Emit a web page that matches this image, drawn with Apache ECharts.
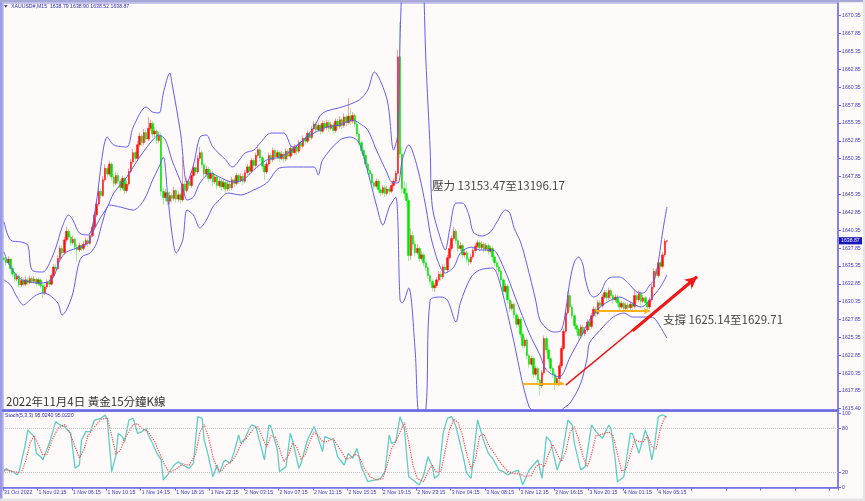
<!DOCTYPE html>
<html><head><meta charset="utf-8">
<script src="https://cdn.jsdelivr.net/npm/echarts@6/dist/echarts.min.js"></script>
<style>html,body{margin:0;padding:0;background:#fffafa;}#c{width:865px;height:501px;}</style>
</head><body><div id="c"></div>
<script>
// ---------- data ----------
const tickLabels = ['31 Oct 2022','1 Nov 02:15','1 Nov 06:15','1 Nov 10:15','1 Nov 14:15','1 Nov 18:15','1 Nov 22:15','2 Nov 03:15','2 Nov 07:15','2 Nov 11:15','2 Nov 15:15','2 Nov 19:15','2 Nov 23:15','3 Nov 04:15','3 Nov 08:15','3 Nov 12:15','3 Nov 16:15','3 Nov 20:15','4 Nov 01:15','4 Nov 05:15'];
const priceTicks = [1615.40,1617.85,1620.35,1622.85,1625.35,1627.85,1630.35,1632.85,1635.35,1637.85,1640.35,1642.85,1645.35,1647.85,1650.35,1652.85,1655.35,1657.85,1660.35,1662.85,1665.35,1667.85,1670.35];
const stochTicks = [0,20,80,100];
const stochLevels = [20,80];
const totalSlots = 388;
// [open, close, low, high]
const candles = [
[1636.5,1636.2,1635.9,1637.0],[1636.2,1635.8,1635.4,1636.6],[1635.8,1636.3,1635.5,1636.7],[1636.3,1635.0,1634.7,1636.5],[1635.0,1634.2,1633.8,1635.3],
[1634.2,1633.5,1633.1,1634.5],[1633.5,1633.9,1633.2,1634.3],[1633.9,1632.7,1632.3,1634.1],[1632.7,1633.3,1632.4,1633.8],[1633.3,1632.8,1632.5,1633.6],
[1632.8,1633.4,1632.5,1633.9],[1633.4,1633.0,1632.7,1633.8],[1633.0,1633.6,1632.8,1634.0],[1633.6,1633.2,1632.9,1633.9],[1633.2,1633.5,1632.9,1633.9],
[1633.5,1632.9,1632.5,1633.7],[1632.9,1633.4,1632.6,1633.7],[1633.4,1632.6,1632.2,1633.6],[1632.6,1631.6,1630.9,1632.8],[1631.6,1632.4,1631.3,1632.7],
[1632.4,1633.1,1632.1,1633.5],[1633.1,1632.8,1632.4,1633.6],[1632.8,1634.0,1632.6,1634.3],[1634.0,1635.2,1633.8,1635.6],[1635.2,1635.0,1634.6,1635.7],
[1635.0,1636.4,1634.8,1636.8],[1636.4,1637.8,1636.1,1638.3],[1637.8,1637.2,1636.8,1638.2],[1637.2,1639.0,1637.0,1639.4],[1639.0,1640.2,1638.7,1640.8],
[1640.2,1639.4,1639.0,1640.5],[1639.4,1638.6,1638.2,1639.8],[1638.6,1639.1,1638.3,1639.6],[1639.1,1638.0,1637.6,1639.3],[1638.0,1637.6,1635.9,1638.4],
[1637.6,1638.2,1637.3,1638.6],[1638.2,1637.8,1637.4,1638.5],[1637.8,1638.4,1637.5,1638.8],[1638.4,1638.9,1638.1,1639.3],[1638.9,1638.5,1638.0,1639.2],
[1638.5,1639.6,1638.3,1640.0],[1639.6,1640.8,1639.4,1641.2],[1640.8,1642.5,1640.5,1642.9],[1642.5,1644.0,1642.2,1644.5],[1644.0,1645.8,1643.7,1646.3],
[1645.8,1645.2,1644.7,1646.2],[1645.2,1647.4,1645.0,1647.9],[1647.4,1649.0,1647.1,1649.6],[1649.0,1648.2,1647.7,1649.4],[1648.2,1649.6,1647.9,1650.1],
[1649.6,1647.8,1647.3,1649.9],[1647.8,1646.9,1646.4,1648.2],[1646.9,1648.0,1646.6,1648.5],[1648.0,1647.2,1646.8,1648.4],[1647.2,1646.3,1645.8,1647.5],
[1646.3,1647.6,1646.0,1648.0],[1647.6,1645.9,1645.4,1647.8],[1645.9,1646.8,1645.6,1647.3],[1646.8,1648.6,1646.5,1649.0],[1648.6,1649.9,1648.3,1650.3],
[1649.9,1651.2,1649.6,1651.7],[1651.2,1650.4,1649.9,1651.5],[1650.4,1652.3,1650.1,1652.8],[1652.3,1653.5,1652.0,1654.0],[1653.5,1652.6,1652.1,1653.8],
[1652.6,1654.0,1652.3,1654.5],[1654.0,1653.1,1652.6,1654.4],[1653.1,1654.6,1652.8,1656.2],[1654.6,1655.3,1654.2,1655.8],[1655.3,1653.8,1653.3,1655.6],
[1653.8,1654.2,1653.4,1654.8],[1654.2,1652.9,1652.4,1654.5],[1652.9,1653.6,1652.5,1654.1],[1653.6,1645.8,1645.2,1654.0],[1645.8,1644.9,1643.9,1646.3],
[1644.9,1645.6,1644.4,1646.1],[1645.6,1644.4,1643.8,1645.9],[1644.4,1645.2,1643.9,1645.7],[1645.2,1644.8,1644.2,1645.6],[1644.8,1645.9,1644.5,1646.4],
[1645.9,1644.7,1644.2,1646.1],[1644.7,1645.3,1644.3,1645.8],[1645.3,1644.6,1644.1,1645.6],[1644.6,1646.8,1644.3,1650.6],[1646.8,1645.9,1645.4,1647.2],
[1645.9,1647.2,1645.6,1647.7],[1647.2,1646.6,1646.1,1647.5],[1646.6,1648.0,1646.3,1648.5],[1648.0,1649.1,1647.7,1649.6],[1649.1,1648.5,1648.0,1649.5],
[1648.5,1650.4,1648.2,1650.9],[1650.4,1651.2,1650.0,1652.0],[1651.2,1649.5,1649.0,1651.5],[1649.5,1648.2,1647.7,1649.8],[1648.2,1648.9,1647.8,1649.4],
[1648.9,1647.6,1647.1,1649.2],[1647.6,1648.3,1647.3,1648.7],[1648.3,1647.1,1646.6,1648.6],[1647.1,1647.8,1646.8,1648.2],[1647.8,1646.6,1646.1,1648.0],
[1646.6,1647.2,1646.3,1647.6],[1647.2,1646.4,1645.9,1647.5],[1646.4,1647.0,1646.1,1647.4],[1647.0,1646.1,1645.6,1647.3],[1646.1,1646.8,1645.8,1647.2],
[1646.8,1646.3,1645.8,1647.1],[1646.3,1647.4,1646.0,1647.8],[1647.4,1646.9,1646.4,1647.7],[1646.9,1648.0,1646.6,1648.4],[1648.0,1647.3,1646.8,1648.3],
[1647.3,1647.9,1647.0,1648.3],[1647.9,1647.2,1646.7,1648.2],[1647.2,1648.4,1646.9,1648.8],[1648.4,1649.2,1648.1,1649.6],[1649.2,1648.6,1648.1,1649.5],
[1648.6,1650.1,1648.3,1650.5],[1650.1,1649.4,1648.9,1650.4],[1649.4,1650.8,1649.1,1651.2],[1650.8,1651.6,1650.5,1652.0],[1651.6,1650.5,1650.0,1651.9],
[1650.5,1649.3,1648.8,1650.8],[1649.3,1648.5,1647.4,1649.6],[1648.5,1649.6,1648.2,1650.0],[1649.6,1650.8,1649.3,1651.2],[1650.8,1650.2,1649.7,1651.1],
[1650.2,1651.5,1649.9,1651.9],[1651.5,1650.6,1650.1,1651.8],[1650.6,1651.2,1650.3,1651.6],[1651.2,1650.4,1649.9,1651.5],[1650.4,1651.0,1650.1,1651.4],
[1651.0,1650.3,1649.8,1651.3],[1650.3,1651.4,1650.0,1651.8],[1651.4,1650.7,1650.2,1651.7],[1650.7,1651.8,1650.4,1652.2],[1651.8,1651.2,1650.7,1652.1],
[1651.2,1652.0,1650.9,1652.4],[1652.0,1651.4,1650.9,1652.3],[1651.4,1652.6,1651.1,1653.0],[1652.6,1652.1,1651.6,1652.9],[1652.1,1653.2,1651.8,1653.6],
[1653.2,1652.8,1652.3,1653.6],[1652.8,1653.9,1652.5,1654.3],[1653.9,1653.3,1652.8,1654.2],[1653.3,1654.5,1653.0,1654.9],[1654.5,1655.2,1654.2,1655.6],
[1655.2,1654.4,1653.9,1655.5],[1654.4,1655.0,1654.1,1655.4],[1655.0,1654.2,1653.7,1655.3],[1654.2,1655.3,1653.9,1655.7],[1655.3,1654.7,1654.2,1655.6],
[1654.7,1655.4,1654.4,1655.8],[1655.4,1654.6,1654.1,1655.7],[1654.6,1655.1,1654.3,1655.5],[1655.1,1654.3,1653.8,1655.4],[1654.3,1655.6,1654.0,1656.0],
[1655.6,1654.9,1654.4,1655.9],[1654.9,1655.8,1654.6,1656.3],[1655.8,1655.0,1654.5,1656.1],[1655.0,1656.2,1654.7,1656.7],[1656.2,1655.4,1654.9,1656.5],
[1655.4,1656.3,1655.1,1658.8],[1656.3,1655.6,1655.1,1657.4],[1655.6,1656.4,1655.3,1656.9],[1656.4,1655.2,1654.7,1656.7],[1655.2,1653.8,1653.3,1655.5],
[1653.8,1652.6,1652.1,1654.1],[1652.6,1651.5,1651.0,1652.9],[1651.5,1650.8,1650.3,1651.8],[1650.8,1649.6,1649.1,1651.1],[1649.6,1648.7,1648.2,1649.9],
[1648.7,1648.2,1647.7,1649.0],[1648.2,1647.0,1646.5,1648.5],[1647.0,1646.5,1646.0,1647.3],[1646.5,1647.2,1646.2,1647.6],[1647.2,1646.0,1645.5,1647.5],
[1646.0,1645.6,1645.1,1646.3],[1645.6,1646.3,1645.3,1646.7],[1646.3,1645.5,1645.0,1646.6],[1645.5,1646.1,1645.2,1646.5],[1646.1,1645.8,1645.3,1646.4],
[1645.8,1646.6,1645.5,1647.0],[1646.6,1647.2,1646.3,1647.6],[1647.2,1648.3,1646.9,1648.7],[1648.3,1664.6,1648.0,1665.6],[1664.6,1651.0,1650.4,1669.5],
[1651.0,1646.2,1645.5,1652.0],[1646.2,1645.5,1644.8,1647.2],[1645.5,1644.5,1643.6,1647.0],[1644.5,1636.8,1636.0,1645.0],[1636.8,1639.6,1636.2,1640.6],
[1639.6,1638.4,1637.6,1640.2],[1638.4,1637.2,1636.7,1638.9],[1637.2,1637.8,1636.9,1638.4],[1637.8,1636.4,1635.9,1638.1],[1636.4,1636.9,1636.1,1637.4],
[1636.9,1635.8,1635.3,1637.2],[1635.8,1635.1,1634.6,1636.1],[1635.1,1634.0,1633.5,1635.4],[1634.0,1633.2,1632.7,1634.3],[1633.2,1632.3,1631.8,1633.5],
[1632.3,1632.6,1631.7,1633.0],[1632.6,1633.4,1632.3,1633.8],[1633.4,1634.2,1633.1,1634.6],[1634.2,1633.8,1633.3,1634.6],[1633.8,1635.2,1633.5,1635.6],
[1635.2,1634.8,1634.3,1635.6],[1634.8,1636.5,1634.5,1636.9],[1636.5,1637.8,1636.2,1638.3],[1637.8,1639.2,1637.5,1639.7],[1639.2,1640.2,1638.9,1640.8],
[1640.2,1638.9,1638.4,1640.5],[1638.9,1637.8,1637.3,1639.2],[1637.8,1638.2,1637.4,1638.7],[1638.2,1636.9,1636.4,1638.5],[1636.9,1637.2,1636.5,1637.6],
[1637.2,1636.3,1635.8,1637.5],[1636.3,1635.9,1635.4,1636.6],[1635.9,1636.6,1635.6,1637.0],[1636.6,1637.5,1636.3,1637.9],[1637.5,1638.1,1637.2,1638.5],
[1638.1,1638.6,1637.8,1639.0],[1638.6,1637.9,1637.4,1638.9],[1637.9,1638.4,1637.6,1638.8],[1638.4,1637.7,1637.2,1638.7],[1637.7,1638.2,1637.4,1638.6],
[1638.2,1637.4,1636.9,1638.5],[1637.4,1637.8,1637.1,1638.2],[1637.8,1636.6,1636.1,1638.1],[1636.6,1635.8,1635.3,1636.9],[1635.8,1635.2,1634.7,1636.1],
[1635.2,1634.6,1634.1,1635.5],[1634.6,1633.4,1632.9,1634.9],[1633.4,1631.8,1631.3,1633.7],[1631.8,1632.5,1631.5,1632.9],[1632.5,1630.6,1630.1,1632.8],
[1630.6,1629.4,1628.9,1630.9],[1629.4,1630.0,1629.1,1630.4],[1630.0,1628.5,1628.0,1630.3],[1628.5,1627.2,1626.7,1628.8],[1627.2,1627.9,1626.9,1628.3],
[1627.9,1625.8,1625.3,1628.2],[1625.8,1624.2,1623.7,1626.1],[1624.2,1625.0,1623.9,1625.4],[1625.0,1622.8,1622.3,1625.3],[1622.8,1621.6,1621.1,1623.1],
[1621.6,1622.4,1621.3,1622.8],[1622.4,1620.2,1619.7,1622.7],[1620.2,1621.0,1619.9,1621.4],[1621.0,1619.4,1618.9,1621.3],[1619.4,1618.6,1617.2,1619.7],
[1618.6,1620.4,1618.3,1620.8],[1620.4,1625.2,1620.1,1625.6],[1625.2,1623.6,1623.1,1625.5],[1623.6,1622.4,1621.9,1623.9],[1622.4,1621.0,1620.5,1622.7],
[1621.0,1620.2,1619.7,1621.3],[1620.2,1618.9,1618.0,1620.5],[1618.9,1619.6,1618.6,1620.0],[1619.6,1621.4,1619.3,1621.8],[1621.4,1623.8,1621.1,1624.2],
[1623.8,1626.2,1623.5,1626.6],[1626.2,1628.8,1625.9,1629.2],[1628.8,1631.2,1628.5,1631.8],[1631.2,1629.6,1629.1,1631.5],[1629.6,1628.4,1627.9,1629.9],
[1628.4,1627.0,1626.5,1628.7],[1627.0,1626.5,1626.0,1627.3],[1626.5,1625.6,1624.9,1626.8],[1625.6,1626.8,1625.3,1627.2],[1626.8,1625.9,1625.4,1627.1],
[1625.9,1626.4,1625.5,1626.8],[1626.4,1627.5,1626.1,1627.9],[1627.5,1626.9,1626.4,1627.8],[1626.9,1628.4,1626.6,1628.8],[1628.4,1629.3,1628.1,1629.7],
[1629.3,1628.7,1628.2,1629.6],[1628.7,1630.2,1628.4,1630.6],[1630.2,1629.8,1629.3,1630.6],[1629.8,1631.0,1629.5,1631.4],[1631.0,1631.6,1630.7,1632.0],
[1631.6,1630.9,1630.4,1631.9],[1630.9,1631.9,1630.6,1632.3],[1631.9,1631.2,1630.7,1632.2],[1631.2,1630.6,1630.1,1631.5],[1630.6,1631.0,1630.3,1631.4],
[1631.0,1630.2,1629.7,1631.3],[1630.2,1629.6,1629.1,1630.5],[1629.6,1630.1,1629.3,1630.5],[1630.1,1629.4,1628.9,1630.4],[1629.4,1629.9,1629.1,1630.3],
[1629.9,1629.5,1629.0,1630.2],[1629.5,1630.0,1629.2,1630.4],[1630.0,1629.7,1629.2,1630.3],[1629.7,1631.2,1629.4,1632.0],[1631.2,1630.6,1630.1,1631.5],
[1630.6,1631.5,1630.3,1631.9],[1631.5,1630.4,1629.9,1631.8],[1630.4,1630.9,1630.1,1631.3],[1630.9,1630.2,1629.7,1631.2],[1630.2,1629.6,1629.1,1630.5],
[1629.6,1630.6,1629.3,1631.0],[1630.6,1632.4,1630.3,1632.8],[1632.4,1634.6,1632.1,1635.0],[1634.6,1634.0,1633.5,1634.9],[1634.0,1635.8,1633.7,1636.2],
[1635.8,1635.3,1634.8,1636.1],[1635.3,1636.9,1635.0,1637.3],[1636.9,1638.79,1636.6,1639.2],[1638.79,1638.87,1638.52,1638.90]
];
// Bollinger bands: [bar index, price]
const bbUpper = [[0,1641.49],[3,1638.97],[8,1638.69],[11,1638.27],[13,1634.78],[18,1634.50],[20,1635.06],[24,1637.86],[27,1640.79],[30,1642.47],[32,1641.77],[35,1639.95],[39,1639.67],[41,1640.79],[43,1644.57],[48,1653.38],[51,1652.27],[57,1651.99],[60,1654.78],[66,1657.58],[69,1656.88],[72,1656.74],[74,1659.54],[77,1662.33],[78,1660.94],[82,1653.94],[85,1646.95],[88,1649.47],[91,1653.38],[94,1653.66],[97,1651.99],[103,1650.17],[106,1649.19],[112,1651.14],[116,1651.56],[119,1652.55],[124,1653.94],[130,1653.94],[134,1651.99],[139,1652.96],[144,1654.78],[148,1656.74],[157,1657.58],[165,1658.56],[169,1659.96],[172,1662.47],[178,1658.56],[181,1651.56],[183,1653.94],[184,1666.95],[185,1676],[187,1686],[190,1690],[194,1681],[196,1664.15],[198,1651.56],[199,1643.59],[203,1638.97],[205,1637.58],[207,1640.37],[210,1644.15],[213,1644.15],[216,1642.47],[218,1640.09],[222,1639.53],[226,1640.09],[229,1641.49],[233,1643.17],[235,1642.75],[237,1640.65],[240,1638.69],[243,1635.48],[247,1630.58],[249,1627.78],[253,1626.38],[256,1626.10],[259,1626.38],[261,1629.18],[263,1633.38],[265,1635.90],[267,1636.60],[269,1635.48],[270,1633.66],[272,1631.56],[274,1631.00],[277,1631.56],[280,1633.38],[283,1633.80],[286,1633.80],[290,1632.96],[294,1631.70],[297,1631.56],[300,1632.68],[302,1633.38],[304,1635.90],[306,1640.09],[308,1643.59]];
const bbMiddle = [[0,1637.30],[2,1635.76],[7,1633.66],[12,1633.10],[17,1632.96],[20,1633.10],[23,1633.80],[26,1636.18],[29,1637.30],[34,1637.86],[39,1638.55],[41,1639.95],[45,1642.19],[48,1643.59],[51,1645.55],[57,1647.79],[63,1650.58],[69,1652.96],[72,1653.66],[75,1652.96],[78,1650.17],[83,1646.39],[85,1644.57],[88,1644.99],[91,1646.95],[96,1648.35],[100,1647.79],[106,1647.09],[111,1647.37],[116,1648.77],[122,1650.17],[128,1650.58],[134,1651.56],[139,1652.96],[144,1653.94],[150,1654.78],[156,1655.06],[162,1655.76],[165,1655.34],[169,1654.36],[173,1651.56],[178,1648.35],[180,1647.09],[183,1646.95],[185,1650.17],[188,1652.27],[192,1649.19],[196,1643.59],[199,1638.55],[205,1634.36],[209,1635.20],[212,1637.16],[217,1637.99],[221,1637.58],[227,1637.58],[232,1635.20],[238,1630.58],[244,1625.96],[249,1622.89],[252,1620.79],[258,1619.81],[263,1622.61],[268,1625.40],[272,1627.78],[277,1629.60],[282,1630.58],[286,1631.00],[291,1630.30],[296,1629.60],[300,1630.58],[305,1632.40],[308,1634.07]];
const bbLower = [[0,1633.38],[3,1632.68],[6,1631.00],[9,1629.88],[12,1630.58],[15,1631.28],[18,1631.56],[21,1631.28],[25,1630.16],[27,1628.48],[29,1629.18],[32,1631.56],[34,1634.78],[36,1636.60],[40,1637.16],[43,1638.55],[46,1641.77],[49,1643.87],[54,1643.59],[60,1643.17],[65,1644.57],[69,1647.37],[72,1649.19],[74,1650.58],[76,1645.27],[78,1639.95],[80,1637.16],[83,1638.97],[85,1643.17],[88,1642.47],[91,1640.65],[94,1641.77],[97,1643.59],[100,1644.57],[104,1645.55],[110,1645.27],[116,1645.97],[122,1646.95],[128,1649.05],[134,1649.19],[144,1649.19],[146,1648.07],[148,1650.17],[156,1652.96],[161,1653.38],[165,1652.55],[170,1647.37],[173,1643.87],[176,1641.07],[179,1643.59],[182,1644.99],[184,1630.58],[185,1630.16],[188,1632.26],[191,1623.58],[193,1614.5],[196,1615.2],[198,1630.58],[203,1631.00],[206,1630.58],[210,1627.50],[212,1630.16],[217,1633.80],[221,1634.78],[227,1635.06],[230,1633.38],[236,1625.96],[244,1615.61],[249,1614.9],[256,1614.5],[260,1615.47],[263,1616.17],[268,1618.97],[271,1622.61],[272,1624.56],[277,1626.38],[283,1628.20],[288,1628.76],[292,1628.20],[299,1628.20],[302,1628.06],[305,1626.80],[308,1625.26]];
// Stochastic (5,3,3): [bar index, value]
const stochK = [[0,21.4],[1,25.9],[2,23.6],[4,21.4],[6,17.1],[7,21.4],[10,59.7],[11,77.7],[14,68.7],[15,46.2],[17,41.7],[18,37.2],[21,59.7],[24,89],[26,84.5],[28,82.3],[31,73.2],[33,25.9],[35,30.4],[36,64.2],[38,75.5],[40,75.5],[42,91.2],[45,93.5],[47,98],[48,91.2],[50,21.4],[52,43.9],[53,73.2],[55,68.7],[56,62],[58,91.2],[60,93.5],[62,73.2],[64,75.5],[66,79.8],[67,71],[69,59.7],[71,46.2],[73,37.2],[74,10.1],[76,17.1],[79,30.4],[81,34.9],[83,30.4],[86,25.9],[88,32.7],[90,95.7],[92,93.5],[93,64.2],[95,41.7],[97,14.6],[99,30.4],[100,19.1],[102,34.9],[103,37.2],[105,32.7],[107,48.4],[109,71],[110,59.7],[112,66.4],[114,79.8],[115,84.5],[117,82.3],[121,37.2],[123,84.5],[124,82.3],[127,50.7],[128,21.4],[131,28.2],[133,73.2],[134,64.2],[137,25.9],[138,32.7],[141,64.2],[144,82.3],[145,75.5],[148,48.4],[149,68.7],[151,66.4],[153,64.2],[155,41.7],[158,30.4],[160,46.2],[162,39.4],[164,52.9],[166,28.2],[169,7.9],[172,10.1],[175,12.4],[177,21.4],[179,71],[180,59.7],[182,62],[184,95.7],[186,79.8],[188,14.6],[190,10.1],[193,3.4],[195,17.1],[197,41.7],[199,28.2],[200,12.4],[202,17.1],[204,73.2],[206,93.5],[208,95.7],[210,82.3],[213,46.2],[215,19.1],[217,12.4],[220,91.2],[223,62],[225,46.2],[227,39.4],[230,23.6],[232,21.4],[234,17.1],[237,21.4],[239,23.6],[241,3.4],[244,23.6],[246,30.4],[248,37.2],[250,12.4],[252,68.7],[254,62],[255,48.4],[257,23.6],[259,39.4],[262,91.2],[264,84.5],[265,59.7],[268,23.6],[270,28.2],[273,84.5],[275,75.5],[278,66.4],[281,84.5],[282,79.8],[284,37.2],[285,7.9],[288,14.6],[291,73.2],[292,73.2],[295,46.2],[298,77.7],[299,68.7],[301,37.2],[302,52.9],[304,95.7],[306,98],[308,95.02]];
const stochD = [[0,24],[2,23],[5,21],[8,20],[10,35],[12,60],[14,70],[16,58],[18,44],[20,45],[22,62],[25,80],[28,85],[30,78],[33,55],[35,40],[37,50],[39,70],[42,82],[45,92],[48,94],[50,70],[52,45],[54,50],[56,66],[58,75],[60,85],[62,86],[64,80],[67,75],[70,62],[72,48],[75,28],[77,20],[80,25],[83,32],[86,30],[89,45],[91,75],[93,85],[95,68],[97,42],[99,25],[101,22],[103,30],[106,36],[108,45],[110,58],[113,68],[116,80],[118,82],[120,68],[122,55],[124,70],[126,68],[128,52],[130,35],[132,42],[134,60],[136,55],[138,38],[140,45],[142,62],[144,75],[146,70],[148,62],[150,62],[153,66],[156,52],[159,38],[161,40],[163,45],[165,42],[167,28],[170,15],[173,10],[176,12],[178,30],[180,52],[182,62],[184,75],[186,88],[188,62],[190,30],[192,12],[195,8],[197,22],[199,30],[201,20],[203,22],[205,50],[207,78],[209,92],[211,88],[213,70],[215,45],[217,25],[219,38],[221,70],[223,72],[225,58],[228,45],[231,32],[234,22],[237,19],[240,18],[242,15],[245,16],[247,28],[249,32],[251,28],[253,45],[255,58],[257,45],[259,35],[261,48],[263,75],[265,82],[267,65],[269,42],[271,28],[273,45],[275,70],[278,72],[281,75],[283,70],[285,45],[287,22],[289,25],[291,45],[293,65],[295,62],[297,62],[299,70],[301,55],[303,52],[305,80],[307,95],[308,95.02]];
// annotations (data coordinates: [bar index, price])
const trendArrow = [[261,1618.69],[322,1633.84]];
const supportArrows = [[[241,1618.93],[260,1618.93]],[[275,1629.04],[300,1629.04]]];
const headerText = 'XAUUSD#,M15  1638.79 1638.90 1638.52 1638.87';
const stochText = 'Stoch(5,3,3) 95.0240 95.0220';
const titleText = '2022年11月4日 黃金15分鐘K線';
const resistanceText = '壓力 13153.47至13196.17';
const supportText = '支撐 1625.14至1629.71';

// ---------- chart ----------
const chart = echarts.init(document.getElementById('c'), null, {renderer: 'canvas'});
const cats = Array.from({length: totalSlots}, (_, i) => String(i));
const bodies = candles.map(d => [d[0], d[1], Math.min(d[0], d[1]), Math.max(d[0], d[1])]);
const axisBlue = '#6c6ce4';
const labelBlue = '#3a3ac0';
const smallFont = 'Liberation Sans';
const bandStyle = {color: '#5f5ff2', width: 1};

const option = {
  animation: false,
  backgroundColor: '#fffafa',
  grid: [
    {left: 3, top: 3, width: 835, height: 407, show: true, borderColor: '#9090e4', borderWidth: 1},
    {left: 3, top: 411.5, width: 835, height: 76, show: true, borderColor: '#9090e4', borderWidth: 1}
  ],
  xAxis: [
    {type: 'category', gridIndex: 0, data: cats, boundaryGap: true,
     axisLine: {show: true, lineStyle: {color: axisBlue, width: 2.5}},
     axisTick: {show: false}, axisLabel: {show: false}, splitLine: {show: false}},
    {type: 'category', gridIndex: 1, data: cats, boundaryGap: true,
     axisLine: {show: true, lineStyle: {color: axisBlue, width: 1.5}},
     axisTick: {show: true, interval: 15, length: 3, lineStyle: {color: axisBlue}},
     axisLabel: {interval: 15, align: 'left', margin: 3, fontSize: 5.2, color: labelBlue, fontFamily: smallFont,
       formatter: (v, i) => (i % 16 === 0 && tickLabels[i / 16]) ? tickLabels[i / 16] : ''},
     splitLine: {show: false}}
  ],
  yAxis: [
    {type: 'value', gridIndex: 0, position: 'right', min: 1615.20, max: 1672.13, scale: true,
     axisLine: {show: true, lineStyle: {color: axisBlue, width: 1.5}},
     axisTick: {show: true, length: 3, customValues: priceTicks, lineStyle: {color: axisBlue}},
     axisLabel: {customValues: priceTicks, formatter: v => Number(v).toFixed(2), fontSize: 5.2, color: labelBlue, fontFamily: smallFont, margin: 4},
     splitLine: {show: false}},
    {type: 'value', gridIndex: 1, position: 'right', min: 0, max: 102.7,
     axisLine: {show: true, lineStyle: {color: axisBlue, width: 1.5}},
     axisTick: {show: true, length: 3, customValues: stochTicks, lineStyle: {color: axisBlue}},
     axisLabel: {customValues: stochTicks, fontSize: 5.2, color: labelBlue, fontFamily: smallFont, margin: 4},
     splitLine: {show: false}}
  ],
  series: [
    {name: 'wick', type: 'candlestick', xAxisIndex: 0, yAxisIndex: 0, data: candles, barWidth: 1, silent: true,
     itemStyle: {color: '#ff9c9c', color0: '#9ff09f', borderColor: '#ff9c9c', borderColor0: '#9ff09f', borderWidth: 1}},
    {name: 'body', type: 'candlestick', xAxisIndex: 0, yAxisIndex: 0, data: bodies, barWidth: 2, silent: true,
     itemStyle: {color: '#ff1010', color0: '#00e400', borderColor: '#ff1010', borderColor0: '#00e400', borderWidth: 0.5}},
    {name: 'upper', type: 'line', xAxisIndex: 0, yAxisIndex: 0, data: bbUpper, smooth: 0.3, symbol: 'none', lineStyle: bandStyle, silent: true, clip: true},
    {name: 'middle', type: 'line', xAxisIndex: 0, yAxisIndex: 0, data: bbMiddle, smooth: 0.3, symbol: 'none', lineStyle: bandStyle, silent: true, clip: true},
    {name: 'lower', type: 'line', xAxisIndex: 0, yAxisIndex: 0, data: bbLower, smooth: 0.3, symbol: 'none', lineStyle: bandStyle, silent: true, clip: true},
    {name: 'arrows', type: 'line', xAxisIndex: 0, yAxisIndex: 0, data: [], silent: true,
     markLine: {silent: true, animation: false, label: {show: false}, symbol: ['none', 'none'],
       data: [
         [{coord: trendArrow[0], lineStyle: {color: '#f01818', width: 1.5, type: 'solid'}}, {coord: trendArrow[1]}],
         [{coord: [(trendArrow[0][0] + trendArrow[1][0]) / 2, (trendArrow[0][1] + trendArrow[1][1]) / 2], lineStyle: {color: '#f01818', width: 3.2, type: 'solid'}}, {coord: trendArrow[1], symbol: 'arrow', symbolSize: [9, 12]}],
         [{coord: supportArrows[0][0], lineStyle: {color: '#ffb21c', width: 2, type: 'solid'}}, {coord: supportArrows[0][1], symbol: 'arrow', symbolSize: [5, 6]}],
         [{coord: supportArrows[1][0], lineStyle: {color: '#ffb21c', width: 2, type: 'solid'}}, {coord: supportArrows[1][1], symbol: 'arrow', symbolSize: [5, 6]}]
       ]}},
    {name: 'K', type: 'line', xAxisIndex: 1, yAxisIndex: 1, data: stochK, symbol: 'none', silent: true,
     lineStyle: {color: '#5ccfc4', width: 1.3},
     markLine: {silent: true, symbol: ['none', 'none'], label: {show: false},
       lineStyle: {color: '#c4c4c4', type: 'dotted', width: 1},
       data: stochLevels.map(v => ({yAxis: v}))}},
    {name: 'D', type: 'line', xAxisIndex: 1, yAxisIndex: 1, data: stochD, symbol: 'none', silent: true,
     lineStyle: {color: '#ff4a4a', width: 1.2, type: 'dotted'}}
  ]
};
chart.setOption(option);

const lastClose = candles[candles.length - 1][1];
const tagY = chart.convertToPixel({xAxisIndex: 0, yAxisIndex: 0}, [String(candles.length - 1), lastClose])[1];
chart.setOption({
  graphic: [
    {type: 'rect', shape: {x: 0, y: 0, width: 2.5, height: 499}, style: {fill: '#9a9ae6'}, silent: true},
    {type: 'rect', shape: {x: 0, y: 0, width: 865, height: 2.2}, style: {fill: '#a8a8d8'}, silent: true},
    {type: 'polygon', shape: {points: [[4, 5.2], [7.6, 5.2], [5.8, 7.6]]}, style: {fill: '#1b1b7a'}, silent: true},
    {type: 'text', x: 11, y: 6.8, silent: true, style: {text: headerText, fill: '#2d2db4', font: '5.2px "Liberation Sans"', verticalAlign: 'middle'}},
    {type: 'text', x: 5, y: 415.8, silent: true, style: {text: stochText, fill: '#2d2db4', font: '5.2px "Liberation Sans"', verticalAlign: 'middle'}},
    {type: 'text', x: 6, y: 402, silent: true, style: {text: titleText, fill: '#333333', font: '11.5px "Noto Sans CJK TC"', verticalAlign: 'middle'}},
    {type: 'text', x: 432, y: 186, silent: true, style: {text: resistanceText, fill: '#454545', font: '11.5px "Noto Sans CJK TC"', verticalAlign: 'middle'}},
    {type: 'text', x: 663, y: 319.5, silent: true, style: {text: supportText, fill: '#454545', font: '11.5px "Noto Sans CJK TC"', verticalAlign: 'middle'}},
    {type: 'rect', shape: {x: 839, y: tagY - 3.6, width: 23, height: 7.2}, style: {fill: '#1616b8'}, silent: true},
    {type: 'text', x: 841, y: tagY, silent: true, style: {text: lastClose.toFixed(2), fill: '#ffffff', font: '5.2px "Liberation Sans"', verticalAlign: 'middle'}},
    {type: 'rect', shape: {x: 863, y: 0, width: 2, height: 501}, style: {fill: '#e4e4e4'}, silent: true},
    {type: 'rect', shape: {x: 0, y: 498.5, width: 865, height: 2.5}, style: {fill: '#e4e4e4'}, silent: true}
  ]
});
</script></body></html>
